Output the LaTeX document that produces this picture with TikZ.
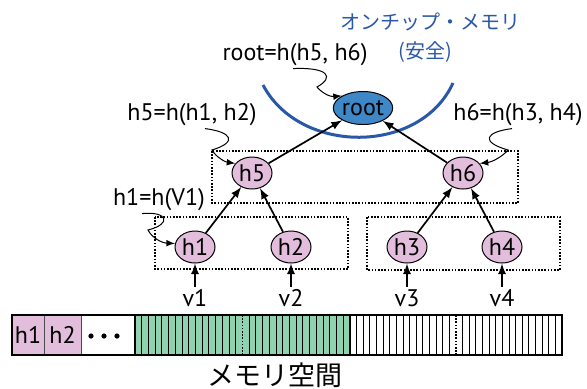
\documentclass[tikz,border=0pt]{standalone}
\usepackage{fontspec}
\setmainfont{PT Sans}
\newfontfamily\jafont{Noto Sans CJK JP}
\usetikzlibrary{shapes.geometric}
\usetikzlibrary{arrows}

\definecolor{hashpink}{RGB}{226,190,220}
\definecolor{datagreen}{RGB}{143,210,176}
\definecolor{rootblue}{RGB}{62,136,200}
\definecolor{chipblue}{RGB}{42,88,168}

\tikzset{
  hnode/.style={ellipse, draw, line width=0.5pt, fill=hashpink, minimum width=20pt,
    minimum height=16pt, inner sep=0pt, font=\fontsize{12}{14}\selectfont},
  rootnode/.style={hnode, fill=rootblue, minimum width=26.5pt, minimum height=16.5pt},
  txt/.style={inner sep=1pt, font=\fontsize{12}{14}\selectfont},
  edge/.style={->, line width=0.85pt},
  wavy/.style={->, line width=0.5pt},
  group/.style={line width=0.8pt, dash pattern=on 0.8pt off 0.8pt},
}

\begin{document}
\begin{tikzpicture}[x=0.5pt, y=-0.5pt, >=latex]
  \useasboundingbox (0,0) rectangle (587,388);

  % dotted boxes round the sibling pairs
  \draw[group] (155,217) rectangle (348,269);
  \draw[group] (367,217) rectangle (560,270);
  \draw[group] (212,151) rectangle (518,203);

  % the on-chip part of the tree
  \draw[chipblue, line width=1.5pt] (263,85) .. controls (300,155) and (420,155) .. (453,83);
  \node[text=chipblue, font=\jafont\fontsize{10}{12}\selectfont] (chip) at (430,22) {オンチップ・メモリ};
  \node[text=chipblue, font=\jafont\fontsize{10}{12}\selectfont] (safe) at (425,52) {(安全)};

  % hash tree
  \foreach \i/\x in {1/195, 2/291, 3/407, 4/502} {
    \node[hnode] (h\i) at (\x,247) {h\i};
    \node[txt] (v\i) at (\x,298) {v\i};
    \draw[edge] (v\i) -- (h\i);
  }
  \node[hnode] (h5) at (252,173) {h5};
  \node[hnode] (h6) at (463,173) {h6};
  \node[rootnode] (root) at (363,108) {root};

  \draw[edge] (h1) -- (h5);
  \draw[edge] (h2) -- (h5);
  \draw[edge] (h3) -- (h6);
  \draw[edge] (h4) -- (h6);
  \draw[edge] (h5) -- (root);
  \draw[edge] (h6) -- (root);

  % how each hash is made
  \node[txt] (lroot) at (295,55) {root=h(h5, h6)};
  \node[txt] (l5) at (192,115) {h5=h(h1, h2)};
  \node[txt] (l6) at (518,115) {h6=h(h3, h4)};
  \node[txt] (l1) at (159,200) {h1=h(V1)};

  \draw[wavy] ([xshift=-1pt]lroot.south) .. controls (328,67) and (335,77) .. (317,87)
    .. controls (322,93) and (330,97) .. (root.150);
  \draw[wavy] ([xshift=6.5pt]l5.south) .. controls (232,132) and (238,142) .. (212,150)
    .. controls (216,157) and (225,162) .. (h5.150);
  \draw[wavy] ([xshift=-3pt]l6.south) .. controls (485,132) and (480,142) .. (508,150)
    .. controls (502,157) and (492,162) .. (h6.30);
  \draw[wavy] ([xshift=-8.5pt]l1.south) .. controls (168,211) and (172,224) .. (148,230)
    .. controls (152,238) and (162,243) .. (h1.170);

  % memory layout
  \fill[hashpink] (12,315) rectangle (81,355);
  \fill[datagreen] (135,315) rectangle (350,355);
  \foreach \i in {1,...,31} {
    \ifnum\i=16\else
      \draw[line width=0.5pt] ({135+\i*215/32},315) -- ({135+\i*215/32},355);
      \draw[line width=0.5pt] ({350+\i*212/32},315) -- ({350+\i*212/32},355);
    \fi
  }
  \draw[group] (242.5,315) -- (242.5,355);
  \draw[group] (456,315) -- (456,355);
  \draw[gray!60!black, line width=0.5pt] (44,315) -- (44,355);
  \draw[gray!60!black, line width=0.5pt] (81,315) -- (81,355);
  \node[txt] (c1) at (28,335) {h1};
  \node[txt] (c2) at (62.5,335) {h2};
  \foreach \x in {91,104,117}
    \fill (\x,336) circle (2.6);
  \draw[line width=1pt] (12,315) rectangle (562,355);
  \draw[line width=1pt] (135,315) -- (135,355);
  \draw[line width=1pt] (350,315) -- (350,355);
  \node[font=\jafont\fontsize{13.5}{15}\selectfont] (mem) at (275,375) {メモリ空間};
\end{tikzpicture}
\end{document}
